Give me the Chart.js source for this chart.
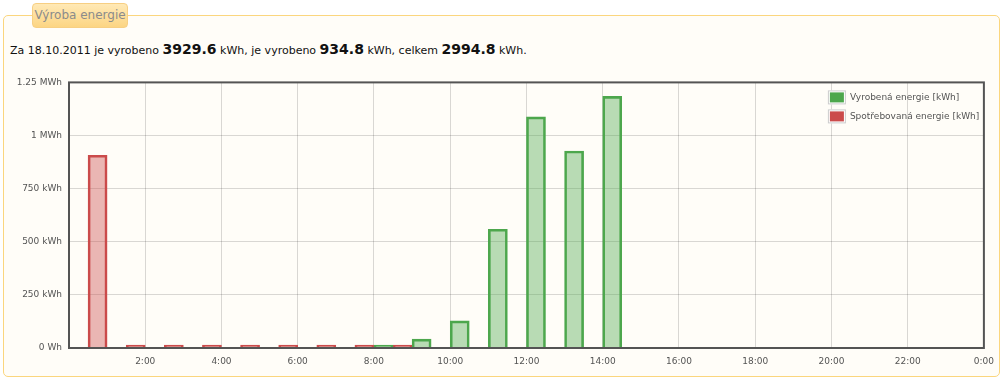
<!DOCTYPE html>
<html>
<head>
<meta charset="utf-8">
<script src="https://cdn.jsdelivr.net/npm/chart.js@4/dist/chart.umd.min.js"></script>
<style>
  body { margin: 0; background: #fff; font-family: Tahoma, "DejaVu Sans", sans-serif; }
  #box {
    position: absolute; left: 3px; top: 15px; width: 995px; height: 360px;
    border: 1px solid #fbd67e; border-radius: 5px; background: #fffdf8;
  }
  #boxTitle {
    position: absolute; left: 32px; top: 3px; width: 94px; height: 23px;
    border: 1px solid #f7cf83; border-radius: 4px;
    background: linear-gradient(#ffe9b6, #fcd583);
    color: #8b8b8b; font-size: 12px; line-height: 23px; text-align: center;
  }
  #summary {
    position: absolute; left: 10px; top: 41px; font-size: 11px; color: #111; white-space: nowrap;
  }
  #summary b { font-size: 14px; }
  #wrap { position: absolute; left: 0; top: 70px; width: 1002px; height: 300px; }
</style>
</head>
<body>
<div id="box"></div>
<div id="boxTitle">Výroba energie</div>
<div id="summary">Za 18.10.2011 je vyrobeno <b>3929.6</b> kWh, je vyrobeno <b>934.8</b> kWh, celkem <b>2994.8</b> kWh.</div>
<div id="wrap"><canvas id="chart"></canvas></div>

<script>
// hodiny a hodnoty (kWh)
const producedHours = [8, 9, 10, 11, 12, 13, 14];
const producedKWh = [1.5, 42, 128, 559, 1088, 927, 1184];
const consumedHours = [0, 1, 2, 3, 4, 5, 6, 7, 8];
const consumedKWh = [907, 3.5, 3.4, 3.6, 3.5, 3.4, 3.5, 3.3, 3.6];
const seriesLabels = ['Vyrobená energie [kWh]', 'Spotřebovaná energie [kWh]'];
const xTicks = [0, 2, 4, 6, 8, 10, 12, 14, 16, 18, 20, 22, 24];
const yTicks = [0, 250, 500, 750, 1000, 1250];

function toPoints(hours, values) {
    return hours.map((h, i) => ({ x: h + 0.5, y: values[i] }));
}

function energyLabel(v) {
    if (v === 0) return '0 Wh';
    if (v < 1000) return v + ' kWh';
    return (v / 1000) + ' MWh';
}

// ramecek kolem grafu + legenda uvnitr
const framePlugin = {
    id: 'frame',
    afterDraw(chart) {
        const ctx = chart.ctx;
        const a = chart.chartArea;
        ctx.save();
        ctx.strokeStyle = '#545454';
        ctx.lineWidth = 2;
        ctx.strokeRect(a.left, a.top, a.right - a.left, a.bottom - a.top);

        ctx.font = '9px Tahoma, "DejaVu Sans", sans-serif';
        ctx.textBaseline = 'middle';
        chart.data.datasets.forEach((ds, i) => {
            const x = a.right - 156;
            const y = a.top + 8 + i * 19;
            ctx.fillStyle = '#ffffff';
            ctx.fillRect(x, y, 18, 14);
            ctx.strokeStyle = '#cccccc';
            ctx.lineWidth = 1;
            ctx.strokeRect(x + 0.5, y + 0.5, 17, 13);
            ctx.fillStyle = ds.borderColor;
            ctx.fillRect(x + 2, y + 2, 14, 10);
            ctx.fillStyle = '#545454';
            ctx.fillText(ds.label, x + 22, y + 7);
        });
        ctx.restore();
    }
};

new Chart(document.getElementById('chart'), {
    type: 'bar',
    data: {
        datasets: [{
            label: seriesLabels[0],
            data: toPoints(producedHours, producedKWh),
            backgroundColor: 'rgba(77,167,77,0.4)',
            borderColor: '#4da74d',
            borderWidth: 2
        }, {
            label: seriesLabels[1],
            data: toPoints(consumedHours, consumedKWh),
            backgroundColor: 'rgba(203,75,75,0.4)',
            borderColor: '#cb4b4b',
            borderWidth: 2
        }]
    },
    options: {
        responsive: true,
        maintainAspectRatio: false,
        animation: false,
        categoryPercentage: 1,
        barPercentage: 1,
        minBarLength: 3,
        layout: { padding: { top: 11, right: 15, left: 0, bottom: 0 } },
        plugins: {
            legend: { display: false },
            tooltip: { enabled: false }
        },
        scales: {
            x: {
                type: 'linear',
                min: 0,
                max: 24,
                offset: false,
                afterFit: s => { s.height = 22; },
                afterBuildTicks: s => { s.ticks = xTicks.map(v => ({ value: v })); },
                grid: { color: 'rgba(0,0,0,0.15)', drawTicks: false, offset: false },
                border: { display: false },
                ticks: {
                    padding: 8,
                    maxRotation: 0,
                    color: '#545454',
                    font: { family: 'Tahoma, "DejaVu Sans", sans-serif', size: 9 },
                    callback: v => v === 0 ? '' : (v % 24) + ':00'
                }
            },
            y: {
                min: 0,
                max: 1250,
                afterFit: s => { s.width = 69; },
                afterBuildTicks: s => { s.ticks = yTicks.map(v => ({ value: v })); },
                grid: { color: 'rgba(0,0,0,0.15)', drawTicks: false },
                border: { display: false },
                ticks: {
                    padding: 7,
                    color: '#545454',
                    font: { family: 'Tahoma, "DejaVu Sans", sans-serif', size: 9 },
                    callback: energyLabel
                }
            }
        }
    },
    plugins: [framePlugin]
});
</script>
</body>
</html>
